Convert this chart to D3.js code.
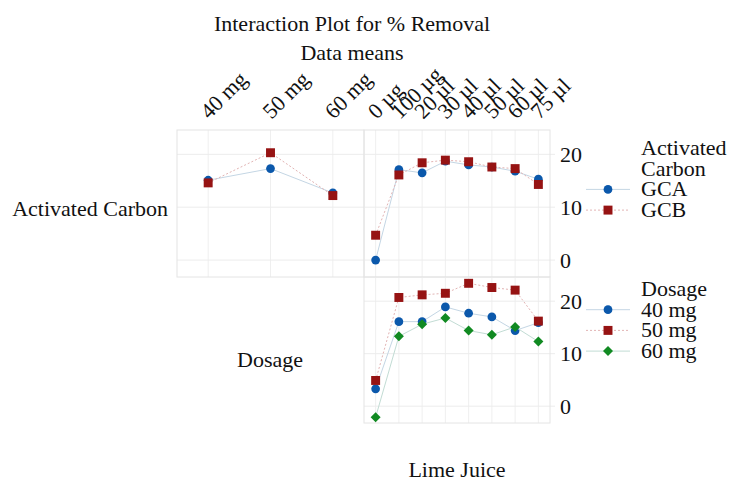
<!DOCTYPE html>
<html>
<head>
<meta charset="utf-8">
<script src="https://cdn.jsdelivr.net/npm/d3@7"></script>
<style>
  body { margin: 0; background: #fff; }
</style>
</head>
<body>
<div class="js-chart"></div>
<script>
// Factor levels
const dosageLevels = ["40 mg", "50 mg", "60 mg"];
const limeLevels = ["0 µg", "100 µg", "20 µl", "30 µl", "40 µl", "50 µl", "60 µl", "75 µl"];
const carbonLevels = ["GCA", "GCB"];
const yTicks = [0, 10, 20];

// Means, Activated Carbon x Dosage
const gcaByDosage = [15.1, 17.3, 12.7];
const gcbByDosage = [14.6, 20.3, 12.2];

// Means, Activated Carbon x Lime Juice
const gcaByLime = [0.0, 17.1, 16.5, 18.7, 18.0, 17.6, 16.8, 15.3];
const gcbByLime = [4.7, 16.1, 18.4, 18.9, 18.6, 17.6, 17.3, 14.3];

// Means, Dosage x Lime Juice
const mg40ByLime = [3.3, 16.1, 16.1, 18.9, 17.7, 17.0, 14.4, 15.9];
const mg50ByLime = [4.9, 20.7, 21.2, 21.5, 23.4, 22.6, 22.1, 16.2];
const mg60ByLime = [-2.1, 13.3, 15.6, 16.8, 14.4, 13.6, 15.1, 12.3];

const width = 730, height = 487;
const colLeft = [177, 364], colRight = [364, 550];
const rowTop = [130, 277], rowBottom = [277, 423];
const yDomain = [-3.2, 24.6];
const serif = "'Liberation Serif', 'Times New Roman', Times, 'DejaVu Serif', serif";
const fontSize = 22;

const styles = {
  blue:  { color: "#0b58ab", line: "#c4d6e4", dash: null, shape: d3.symbolCircle, size: 60, rot: 0 },
  red:   { color: "#961313", line: "#e2b4b4", dash: "2,2", shape: d3.symbolSquare, size: 80, rot: 0 },
  green: { color: "#118a22", line: "#c2dcd4", dash: null, shape: d3.symbolSquare, size: 50, rot: 45 }
};

const svg = d3.select(".js-chart").append("svg")
  .attr("width", width).attr("height", height)
  .attr("font-family", serif);

var addText = function (x, y, txt, anchor) {
  return svg.append("text").attr("x", x).attr("y", y)
    .attr("text-anchor", anchor || "start")
    .attr("font-family", serif).attr("font-size", fontSize).attr("fill", "#111")
    .text(txt);
};

// Title
addText(352, 31, "Interaction Plot for % Removal", "middle");
addText(352, 60, "Data means", "middle");

const xDose = d3.scalePoint().domain(dosageLevels).range(colLeft).padding(0.5);
const xLime = d3.scalePoint().domain(limeLevels).range(colRight).padding(0.5);
const yTop = d3.scaleLinear().domain(yDomain).range([rowTop[1], rowTop[0]]);
const yBot = d3.scaleLinear().domain(yDomain).range([rowBottom[1], rowBottom[0]]);

var marker = function (st) {
  return d3.symbol().type(st.shape).size(st.size);
};

/**
 * Draw one panel: frame, grid, and a trace per series.
 */
var drawPanel = function (x, y, series, showAxis) {
  var g = svg.append("g");
  var [x0, x1] = x.range();
  var [y1, y0] = y.range();

  g.selectAll(null).data(x.domain()).enter().append("line")
    .attr("x1", d => x(d)).attr("x2", d => x(d))
    .attr("y1", y0).attr("y2", y1)
    .attr("stroke", "#efefef");
  g.selectAll(null).data(yTicks).enter().append("line")
    .attr("x1", x0).attr("x2", showAxis ? x1 + 5 : x1)
    .attr("y1", d => y(d)).attr("y2", d => y(d))
    .attr("stroke", "#ececec");
  g.append("rect").attr("x", x0).attr("y", y0)
    .attr("width", x1 - x0).attr("height", y1 - y0)
    .attr("fill", "none").attr("stroke", "#e4e4e4");

  if (showAxis) {
    g.selectAll(null).data(yTicks).enter().append("text")
      .attr("x", x1 + 10).attr("y", d => y(d)).attr("dy", "0.35em")
      .attr("font-family", serif).attr("font-size", fontSize).attr("fill", "#111")
      .text(d => d);
  }

  series.forEach(function (s) {
    var st = styles[s.style];
    var pts = x.domain().map((c, i) => [x(c), y(s.values[i])]);
    g.append("path").attr("d", d3.line()(pts))
      .attr("fill", "none").attr("stroke", st.line).attr("stroke-width", 1)
      .attr("stroke-dasharray", st.dash);
    g.selectAll(null).data(pts).enter().append("path")
      .attr("d", marker(st))
      .attr("transform", d => "translate(" + d[0] + "," + d[1] + ") rotate(" + st.rot + ")")
      .attr("fill", st.color);
  });
};

// Top x labels, rotated
var drawTopLabels = function (x) {
  svg.selectAll(null).data(x.domain()).enter().append("text")
    .attr("transform", d => "translate(" + (x(d) + 1) + ",120) rotate(-45)")
    .attr("font-family", serif).attr("font-size", fontSize).attr("fill", "#111")
    .text(d => d);
};

drawTopLabels(xDose);
drawTopLabels(xLime);

drawPanel(xDose, yTop, [
  { style: "blue", values: gcaByDosage },
  { style: "red", values: gcbByDosage }
], false);

drawPanel(xLime, yTop, [
  { style: "blue", values: gcaByLime },
  { style: "red", values: gcbByLime }
], true);

drawPanel(xLime, yBot, [
  { style: "blue", values: mg40ByLime },
  { style: "red", values: mg50ByLime },
  { style: "green", values: mg60ByLime }
], true);

// Row / column labels
addText(168, 216, "Activated Carbon", "end");
addText(270, 367, "Dosage", "middle");
addText(457, 477, "Lime Juice", "middle");

// Legends
var drawLegend = function (titleLines, labels, styleKeys, top) {
  titleLines.forEach(function (t, i) {
    addText(641, top + i * 20.5, t);
  });
  labels.forEach(function (lab, i) {
    var st = styles[styleKeys[i]];
    var cy = top + (titleLines.length + i) * 20.7 - 7;
    svg.append("line").attr("x1", 586).attr("x2", 630).attr("y1", cy).attr("y2", cy)
      .attr("stroke", st.line).attr("stroke-dasharray", st.dash);
    svg.append("path").attr("d", marker(st))
      .attr("transform", "translate(608," + cy + ") rotate(" + st.rot + ")")
      .attr("fill", st.color);
    addText(641, cy + 7, lab);
  });
};

drawLegend(["Activated", "Carbon"], carbonLevels, ["blue", "red"], 155);
drawLegend(["Dosage"], dosageLevels, ["blue", "red", "green"], 296);
</script>
</body>
</html>
